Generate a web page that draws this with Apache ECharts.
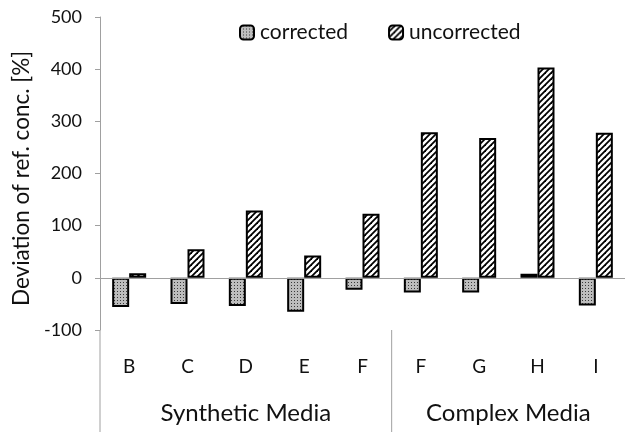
<!DOCTYPE html>
<html><head><meta charset="utf-8">
<script src="https://cdn.jsdelivr.net/npm/echarts@6/dist/echarts.min.js"></script>
<style>html,body{margin:0;padding:0;background:#fff}#c{width:625px;height:432px}</style>
</head><body><div id="c"></div>
<script>
var categories = ['B','C','D','E','F','F','G','H','I'];
var groups = ['Synthetic Media','Complex Media'];
var groupSizes = [5,4];
var corrected = [-56,-50,-54,-65,-23,-28,-28,8,-53];
var uncorrected = [9,55,129,43,123,279,268,403,278];
var yTicks = {min:-100,max:500,interval:100};
var yTitle = 'Deviation of ref. conc. [%]';

function dotPattern(){
  var c=document.createElement('canvas');c.width=3;c.height=3;
  var g=c.getContext('2d');g.fillStyle='#bdbdbd';g.fillRect(0,0,3,3);
  g.fillStyle='#3a3a3a';g.fillRect(0,0,1,1);
  return c;
}
function stripePattern(){
  var s=6;var c=document.createElement('canvas');c.width=s;c.height=s;
  var g=c.getContext('2d');g.fillStyle='#fff';g.fillRect(0,0,s,s);
  g.strokeStyle='#000';g.lineWidth=1.8;
  [[0,s,s,0],[-2,2,2,-2],[s-2,s+2,s+2,s-2]].forEach(function(l){g.beginPath();g.moveTo(l[0],l[1]);g.lineTo(l[2],l[3]);g.stroke();});
  return c;
}
var FONT='Lato';
var chart=echarts.init(document.getElementById('c'),null,{renderer:'canvas'});
var option={
  animation:false,
  textStyle:{fontFamily:FONT},
  legend:{top:17,left:234,itemWidth:14,itemHeight:14,itemGap:40,
    textStyle:{fontFamily:FONT,fontSize:21,color:'#111',padding:[0,0,0,1]},
    data:['corrected','uncorrected']},
  grid:{left:100,top:17,width:528,bottom:102},
  xAxis:{type:'category',data:categories,
    axisLine:{show:false},axisTick:{show:false},
    axisLabel:{margin:27,fontFamily:FONT,fontSize:19,color:'#111'}},
  yAxis:{type:'value',min:yTicks.min,max:yTicks.max,interval:yTicks.interval,
    axisLine:{show:true,lineStyle:{color:'#a0a0a0',width:1}},
    axisTick:{show:true,inside:false,length:5,lineStyle:{color:'#a0a0a0'}},
    axisLabel:{margin:18,fontFamily:FONT,fontSize:18,color:'#111'},
    splitLine:{show:false}},
  series:[
    {name:'corrected',type:'bar',data:corrected,barWidth:17,barGap:'0%',
     itemStyle:{color:{image:dotPattern(),repeat:'repeat'},borderColor:'#000',borderWidth:2}},
    {name:'uncorrected',type:'bar',data:uncorrected,barWidth:17,
     itemStyle:{color:{image:stripePattern(),repeat:'repeat'},borderColor:'#000',borderWidth:2},
     markLine:{silent:true,symbol:'none',label:{show:false},lineStyle:{color:'#a0a0a0',width:1,type:'solid'},data:[{yAxis:0}]}}
  ]
};
chart.setOption(option);
var topY=chart.convertToPixel({yAxisIndex:0},yTicks.max);
var bottomY=chart.convertToPixel({yAxisIndex:0},yTicks.min);
var first=chart.convertToPixel({xAxisIndex:0},0), second=chart.convertToPixel({xAxisIndex:0},1);
var step=second-first;
var graphics=[];
var start=first-step/2;
var bounds=[start];
var acc=0;
groupSizes.forEach(function(n){acc+=n;bounds.push(start+acc*step);});
graphics.push({type:'line',shape:{x1:bounds[0],y1:bottomY,x2:bounds[0],y2:432},style:{stroke:'#a0a0a0',lineWidth:1},silent:true});
graphics.push({type:'line',shape:{x1:bounds[1],y1:bottomY,x2:bounds[1],y2:432},style:{stroke:'#a0a0a0',lineWidth:1},silent:true});
groups.forEach(function(name,i){
  graphics.push({type:'text',x:(bounds[i]+bounds[i+1])/2,y:413,
    style:{text:name,fontFamily:FONT,fontSize:24,fill:'#111',textAlign:'center',textVerticalAlign:'middle'},silent:true});
});
graphics.push({type:'text',x:22,y:(topY+bottomY)/2+5,rotation:Math.PI/2,
  style:{text:yTitle,fontFamily:FONT,fontSize:22.5,fill:'#111',textAlign:'center',textVerticalAlign:'middle'},silent:true});
chart.setOption({graphic:graphics});
</script></body></html>
